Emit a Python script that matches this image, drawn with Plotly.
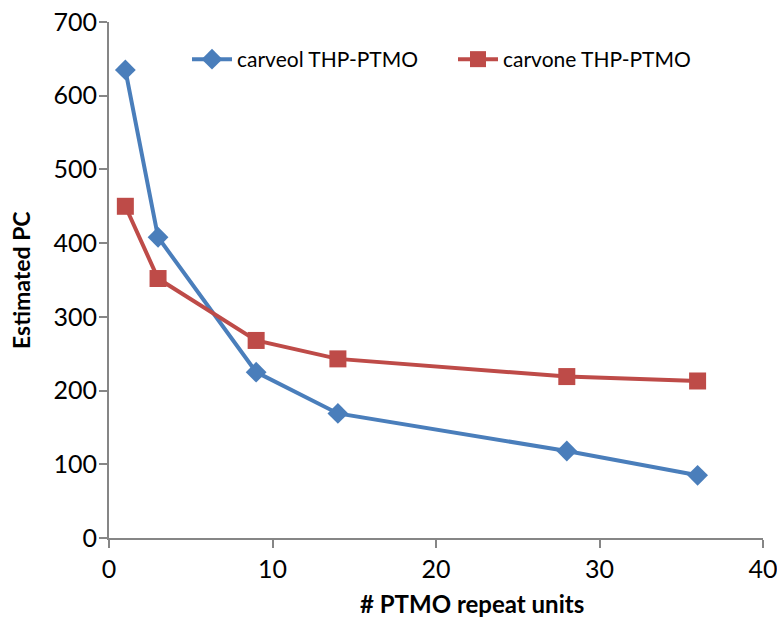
import plotly.graph_objects as go

x_vals = [1, 3, 9, 14, 28, 36]
carveol = [635, 408, 225, 169, 118, 85]
carvone = [450, 352, 268, 243, 219, 213]
x_ticks = [0, 10, 20, 30, 40]
y_ticks = [0, 100, 200, 300, 400, 500, 600, 700]

FONT = "Lato"
AX = "#868686"

W, H = 777, 628
ML, MR, MT, MB = 109, 14, 22, 90
PW, PH = W - ML - MR, H - MT - MB

fig = go.Figure()
fig.add_trace(go.Scatter(
    x=x_vals, y=carveol, mode="lines+markers", name="carveol THP-PTMO",
    line=dict(color="#4A7EBB", width=4),
    marker=dict(symbol="diamond", size=16, color="#4A7EBB"),
))
fig.add_trace(go.Scatter(
    x=x_vals, y=carvone, mode="lines+markers", name="carvone THP-PTMO",
    line=dict(color="#BE4B48", width=4),
    marker=dict(symbol="square", size=17, color="#BE4B48"),
))

fig.update_layout(
    width=W, height=H,
    margin=dict(l=ML, r=MR, t=MT, b=MB),
    paper_bgcolor="white", plot_bgcolor="white",
    font=dict(family=FONT, color="black", size=22),
    legend=dict(orientation="h", x=(187 - 109) / PW, y=1 - (39 - 22) / PH,
                xanchor="left", yanchor="top",
                font=dict(size=21, family=FONT), bgcolor="rgba(0,0,0,0)",
                itemwidth=40, tracegroupgap=0, entrywidth=211),
    xaxis=dict(range=[0, 40], tickvals=x_ticks, showgrid=False, zeroline=False,
               showline=True, linecolor=AX, linewidth=2, ticks="outside",
               ticklen=8, tickwidth=2, tickcolor=AX, automargin=False,
               ticklabeloverflow="allow",
               tickfont=dict(size=25, family=FONT)),
    yaxis=dict(range=[0, 700], tickvals=y_ticks, showgrid=False, zeroline=False,
               showline=True, linecolor=AX, linewidth=2, ticks="outside",
               ticklen=8, tickwidth=2, tickcolor=AX, automargin=False,
               ticklabelstandoff=-3, ticklabeloverflow="allow",
               tickfont=dict(size=25, family=FONT)),
    annotations=[
        dict(text="<b># PTMO repeat units</b>", xref="paper", yref="paper",
             x=(472 - 109) / PW, y=-(603 - 538) / PH, xanchor="center", yanchor="middle",
             showarrow=False, font=dict(size=24, family=FONT)),
        dict(text="<b>Estimated PC</b>", xref="paper", yref="paper",
             x=-(109 - 21) / PW, y=0.5, xanchor="center", yanchor="middle",
             textangle=-90, showarrow=False, font=dict(size=23, family=FONT)),
    ],
)

fig.write_html(
    "out.html",
    config={"displayModeBar": False},
    post_script="document.documentElement.style.margin='0';document.body.style.margin='0';"
                "document.body.style.overflow='hidden';",
)
